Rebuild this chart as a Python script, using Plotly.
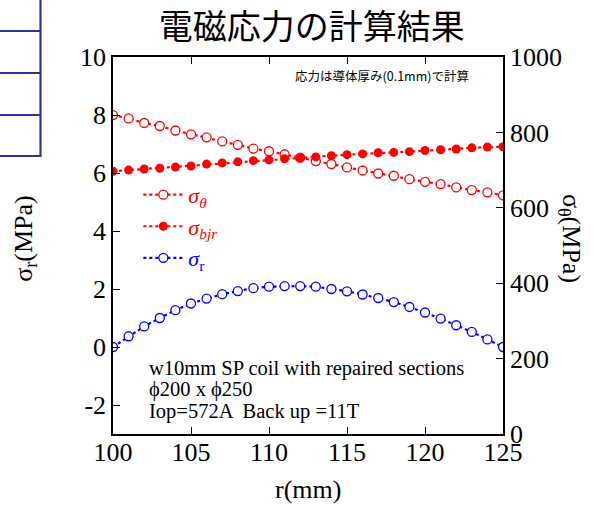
import plotly.graph_objects as go

# radial position (mm)
r_mm = [100, 101, 102, 103, 104, 105, 106, 107, 108, 109, 110, 111, 112,
        113, 114, 115, 116, 117, 118, 119, 120, 121, 122, 123, 124, 125]

# hoop stress (MPa, right axis)
sigma_theta = [846, 837, 825, 817, 805, 795, 787, 776, 767, 757, 750, 742, 733,
               724, 716, 707, 699, 691, 685, 676, 669, 663, 654, 647, 641, 633]

# B*J*r stress (MPa, right axis)
sigma_bjr = [697, 700, 703, 705, 708, 711, 716, 719, 722, 725, 727, 730, 732,
             735, 738, 741, 743, 746, 747, 749, 752, 754, 756, 759, 761, 762]

# radial stress (MPa, left axis)
sigma_r = [0.0, 0.37, 0.71, 1.00, 1.27, 1.50, 1.67, 1.82, 1.93, 2.03, 2.08, 2.10, 2.10,
           2.08, 2.00, 1.92, 1.81, 1.69, 1.55, 1.38, 1.19, 0.98, 0.75, 0.52, 0.26, 0.0]

x_ticks = [100, 105, 110, 115, 120, 125]
left_ticks = [-2, 0, 2, 4, 6, 8, 10]
left_tick_text = ["-2", "0", "2", "4", "6", "8", "10"]
right_ticks = [0, 200, 400, 600, 800, 1000]

RED = "#ff0000"
BLUE = "#0000ff"
SERIF = "Liberation Serif, Times New Roman, serif"
CJK = "Noto Sans CJK JP, sans-serif"
DASH = "3px,3px"

fig = go.Figure()

fig.add_trace(go.Scatter(
    x=r_mm, y=sigma_theta, yaxis="y2", mode="lines+markers",
    name=f'<span style="color:{RED}"><i>σ</i><sub><i>θ</i></sub></span>',
    line=dict(color=RED, width=2.2, dash=DASH),
    marker=dict(symbol="circle", size=9, color="white", line=dict(width=1.3, color=RED)),
))
fig.add_trace(go.Scatter(
    x=r_mm, y=sigma_bjr, yaxis="y2", mode="lines+markers",
    name=f'<span style="color:{RED}"><i>σ</i><sub><i>bjr</i></sub></span>',
    line=dict(color=RED, width=2.2, dash=DASH),
    marker=dict(symbol="circle", size=9, color=RED),
))
fig.add_trace(go.Scatter(
    x=r_mm, y=sigma_r, yaxis="y", mode="lines+markers",
    name=f'<span style="color:{BLUE}"><i>σ</i><sub>r</sub></span>',
    line=dict(color=BLUE, width=2.2, dash=DASH),
    marker=dict(symbol="circle", size=9, color="white", line=dict(width=1.3, color=BLUE)),
))

axis_common = dict(
    showline=True, linecolor="black", linewidth=1.5,
    ticks="inside", ticklen=7, tickwidth=1.3, tickcolor="black",
    showgrid=False, zeroline=False,
    tickfont=dict(family=SERIF, size=26, color="black"),
)

fig.update_layout(
    width=602, height=505,
    margin=dict(l=113, r=99, t=57, b=71),
    paper_bgcolor="white", plot_bgcolor="white",
    showlegend=True,
    legend=dict(
        x=0.065, y=0.69, xanchor="left", yanchor="top",
        bgcolor="rgba(0,0,0,0)", font=dict(family=SERIF, size=22),
        tracegroupgap=0, itemwidth=40,
    ),
    xaxis=dict(range=[100, 125], tickvals=x_ticks, mirror="ticks",
               ticklabelstandoff=-6, **axis_common),
    yaxis=dict(range=[-3, 10], tickvals=left_ticks, ticktext=left_tick_text,
               **axis_common),
    yaxis2=dict(range=[0, 1000], tickvals=right_ticks, overlaying="y",
                side="right", **axis_common),
    title=dict(text="電磁応力の計算結果", x=0.518, xanchor="center",
               y=0.946, yanchor="middle",
               font=dict(family=CJK, size=34, color="black")),
)

annotations = [
    dict(text="r(mm)", x=0.5, y=-0.148, xref="paper", yref="paper",
         xanchor="center", yanchor="middle", showarrow=False,
         font=dict(family=SERIF, size=26, color="black")),
    dict(text="σ<sub>r</sub>(MPa)", x=-0.226, y=0.52, xref="paper", yref="paper",
         xanchor="center", yanchor="middle", showarrow=False, textangle=-90,
         font=dict(family=SERIF, size=26, color="black")),
    dict(text="σ<sub>θ</sub>(MPa)", x=1.172, y=0.52, xref="paper", yref="paper",
         xanchor="center", yanchor="middle", showarrow=False, textangle=90,
         font=dict(family=SERIF, size=26, color="black")),
    dict(text="応力は導体厚み(0.1mm)で計算", x=0.69, y=0.952, xref="paper", yref="paper",
         xanchor="center", yanchor="middle", showarrow=False,
         font=dict(family=CJK, size=12.5, color="black")),
]

# coil description, one line per annotation
info_lines = ["w10mm SP coil with repaired sections",
              "ϕ200 x ϕ250",
              "Iop=572A  Back up =11T"]
info_y = [0.175, 0.118, 0.061]
for txt, yy in zip(info_lines, info_y):
    annotations.append(dict(text=txt, x=0.088, y=yy, xref="paper", yref="paper",
                            xanchor="left", yanchor="middle", showarrow=False,
                            font=dict(family=SERIF, size=20.5, color="black")))
fig.update_layout(annotations=annotations)

# ruled box fragment at the top-left corner
def px_x(p):
    return (p - 113) / 390

def px_y(p):
    return (434 - p) / 377

BOX = "#2e3192"
shapes = [dict(type="line", xref="paper", yref="paper",
               x0=px_x(40.5), x1=px_x(40.5), y0=px_y(0), y1=px_y(157),
               line=dict(color=BOX, width=2.2))]
for hy in [31, 73, 115, 156]:
    shapes.append(dict(type="line", xref="paper", yref="paper",
                       x0=px_x(0), x1=px_x(40.5), y0=px_y(hy), y1=px_y(hy),
                       line=dict(color=BOX, width=2.2)))
fig.update_layout(shapes=shapes)

fig.write_html("out.html")
